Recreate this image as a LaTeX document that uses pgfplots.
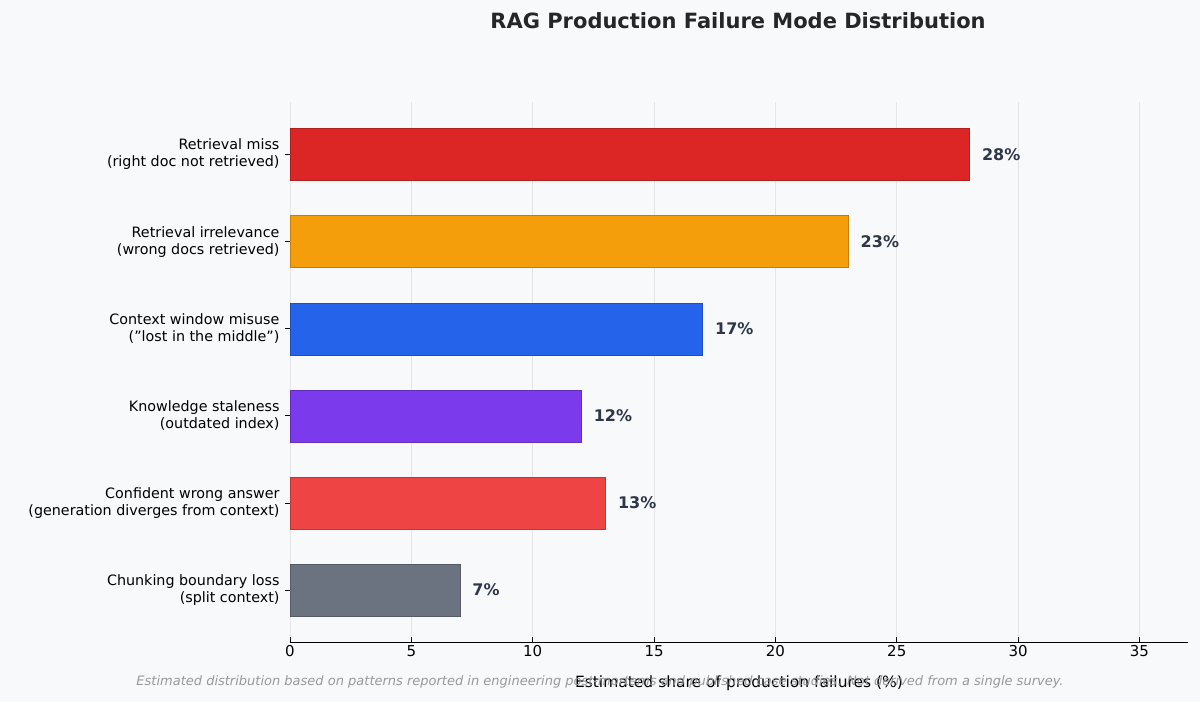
\documentclass[border=0pt]{standalone}
\usepackage{pgfplots}
\pgfplotsset{compat=1.18}
\usepackage{fontspec}
\setmainfont{DejaVu Sans}
\definecolor{bg}{HTML}{F8F9FB}
\definecolor{c1}{HTML}{DC2626}
\definecolor{c2}{HTML}{F59E0B}
\definecolor{c3}{HTML}{2563EB}
\definecolor{c4}{HTML}{7C3AED}
\definecolor{c5}{HTML}{EF4444}
\definecolor{c6}{HTML}{6B7280}
\definecolor{lab}{HTML}{2D3748}
\begin{document}
\begin{tikzpicture}[x=1pt,y=1pt]
\fill[bg] (-290,-112) rectangle (910,590);
\useasboundingbox (-290,-112) rectangle (910,590);
\begin{axis}[at={(0,0)},anchor=origin,
  scale only axis, width=898pt, height=540pt,
  xmin=0, xmax=37, ymin=-0.6, ymax=5.6,
  xbar, bar width=52pt, bar shift=0pt,
  axis lines*=left, axis line style={black,line width=0.8pt},
  y axis line style={draw=none},
  xtick={0,5,...,35}, ytick={0,...,5},
  yticklabels={{Chunking boundary loss\\(split context)},
    {Confident wrong answer\\(generation diverges from context)},
    {Knowledge staleness\\(outdated index)},
    {Context window misuse\\("lost in the middle")},
    {Retrieval irrelevance\\(wrong docs retrieved)},
    {Retrieval miss\\(right doc not retrieved)}},
  yticklabel style={align=right,font=\fontsize{14.3}{17}\selectfont,xshift=-2pt},
  xticklabel style={font=\fontsize{15}{18}\selectfont},
  /pgf/number format/assume math mode=true,
  tick style={black,line width=0.8pt}, major tick length=5pt,
  xmajorgrids, grid style={gray!20,line width=0.8pt},
  xlabel={Estimated share of production failures (\%)},
  xlabel style={font=\fontsize{15.5}{18}\selectfont, yshift=-12pt},
  nodes near coords={\pgfmathprintnumber{\pgfplotspointmeta}\%},
  point meta=x,
  every node near coord/.append style={font=\bfseries\fontsize{16}{19}\selectfont,text=lab,xshift=9pt},
  clip=false]
\addplot[fill=c6,draw=c6!80!black] coordinates {(7,0)};
\addplot[fill=c5,draw=c5!80!black] coordinates {(13,1)};
\addplot[fill=c4,draw=c4!80!black] coordinates {(12,2)};
\addplot[fill=c3,draw=c3!80!black] coordinates {(17,3)};
\addplot[fill=c2,draw=c2!80!black] coordinates {(23,4)};
\addplot[fill=c1,draw=c1!80!black] coordinates {(28,5)};
\end{axis}
\node[font=\bfseries\fontsize{21}{25}\selectfont,text=black!85] at (448,569) {RAG Production Failure Mode Distribution};
\node[font=\itshape\fontsize{13}{16}\selectfont,text=gray!80] at (310,-92) {Estimated distribution based on patterns reported in engineering post-mortems and published case studies. Not derived from a single survey.};
\end{tikzpicture}
\end{document}
